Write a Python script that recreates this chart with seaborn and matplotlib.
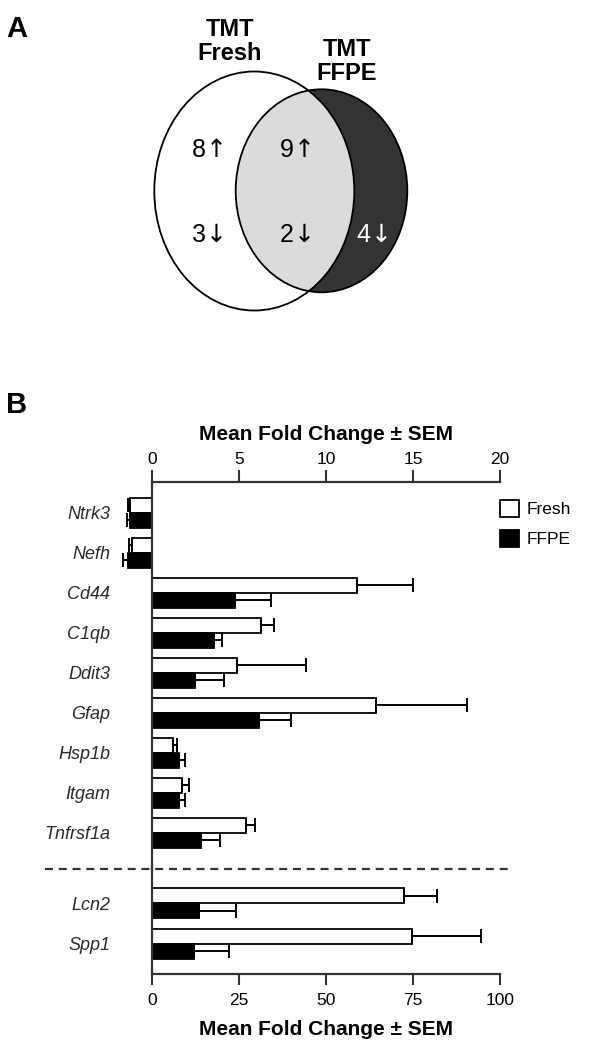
import numpy as np
import pandas as pd
import matplotlib
matplotlib.use("Agg")
import matplotlib.pyplot as plt
import seaborn as sns
from matplotlib.patches import Ellipse, Patch
from matplotlib.lines import Line2D

# panel B data (top block uses 0-20 scale, bottom block 0-100)
top_genes = ['Ntrk3', 'Nefh', 'Cd44', 'C1qb', 'Ddit3', 'Gfap', 'Hsp1b', 'Itgam', 'Tnfrsf1a']
fresh_mean = [-1.26, -1.15, 11.8, 6.26, 4.87, 12.87, 1.19, 1.74, 5.38]
fresh_sem = [0.10, 0.18, 3.2, 0.73, 3.98, 5.21, 0.23, 0.37, 0.54]
ffpe_mean = [-1.26, -1.36, 4.79, 3.54, 2.45, 6.13, 1.55, 1.55, 2.82]
ffpe_sem = [0.20, 0.33, 2.07, 0.50, 1.69, 1.86, 0.37, 0.35, 1.09]

bottom_genes = ['Lcn2', 'Spp1']
fresh_mean_b = [72.4, 74.6]
fresh_sem_b = [9.4, 19.9]
ffpe_mean_b = [13.6, 12.1]
ffpe_sem_b = [10.5, 10.1]

top_ticks = [0, 5, 10, 15, 20]
bottom_ticks = [0, 25, 50, 75, 100]
groups = ['Fresh', 'FFPE']
xlabel = 'Mean Fold Change \u00b1 SEM'

# panel A counts
venn_up = [8, 9]
venn_down = [3, 2, 4]

sns.set_style("ticks")
plt.rcParams['font.family'] = ['Liberation Sans', 'DejaVu Sans']
plt.rcParams['mathtext.fontset'] = 'dejavusans'
plt.rcParams['text.color'] = 'black'
plt.rcParams['axes.labelcolor'] = 'black'
plt.rcParams['xtick.color'] = 'black'
plt.rcParams['ytick.color'] = 'black'

W, H = 615, 1048
fig = plt.figure(figsize=(W / 100, H / 100), dpi=100)

# ---------------- panel A: venn ----------------
axv = fig.add_axes([0, 1 - 320 / H, 1, 320 / H])
axv.set_xlim(0, W)
axv.set_ylim(320, 0)
axv.axis('off')

left_c = Ellipse((254.3, 191), 200, 239, transform=axv.transData)
axv.add_patch(Ellipse((321.5, 190.8), 171.6, 203, facecolor='#333333', edgecolor='none', zorder=1))
inter = Ellipse((321.5, 190.8), 171.6, 203, facecolor='#dbdbdb', edgecolor='none', zorder=2)
axv.add_patch(inter)
inter.set_clip_path(left_c)
axv.add_patch(Ellipse((254.3, 191), 200, 239, facecolor='none', edgecolor='black', lw=1.3, zorder=3))
axv.add_patch(Ellipse((321.5, 190.8), 171.6, 203, facecolor='none', edgecolor='black', lw=1.3, zorder=3))

axv.text(6, 37, 'A', fontsize=21, fontweight='bold', va='baseline', ha='left')
tk = dict(fontsize=17, fontweight='bold', ha='center', va='baseline')
axv.text(230, 36, 'TMT', **tk)
axv.text(230, 60, 'Fresh', **tk)
axv.text(347, 56, 'TMT', **tk)
axv.text(347, 80, 'FFPE', **tk)

up = r'$\!\uparrow$'
down = r'$\!\downarrow$'
nk = dict(fontsize=18, ha='center', va='baseline', zorder=4)
axv.text(207, 157, '%d%s' % (venn_up[0], up), **nk)
axv.text(295, 157, '%d%s' % (venn_up[1], up), **nk)
axv.text(207, 242, '%d%s' % (venn_down[0], down), **nk)
axv.text(295, 242, '%d%s' % (venn_down[1], down), **nk)
axv.text(372, 242, '%d%s' % (venn_down[2], down), color='white', **nk)

# ---------------- panel B: bars ----------------
fig.text(6 / W, 1 - 413 / H, 'B', fontsize=21, fontweight='bold', va='baseline', ha='left')

left = 152 / W
width = 348 / W
ax_top = fig.add_axes([left, 179 / H, width, (869 - 481.7) / H])
ax_bot = fig.add_axes([left, 74 / H, width, 105 / H])

spine_c = '#333333'
palette = {'Fresh': 'white', 'FFPE': 'black'}


def draw_block(ax, genes, fm, fs, pm, ps):
    df = pd.DataFrame({
        'gene': genes * 2,
        'group': ['Fresh'] * len(genes) + ['FFPE'] * len(genes),
        'value': fm + pm,
    })
    sns.barplot(data=df, x='value', y='gene', hue='group', hue_order=groups, order=genes,
                palette=palette, edgecolor='black', linewidth=1.3, width=0.75,
                errorbar=None, legend=False, orient='h', ax=ax)
    for p in ax.patches:
        p.set_clip_on(False)
    for cont, means, sems in zip(ax.containers, [fm, pm], [fs, ps]):
        for bar, m, s in zip(cont, means, sems):
            y = bar.get_y() + bar.get_height() / 2
            lo, hi = (s, 0) if m < 0 else (0, s)
            ax.errorbar(m, y, xerr=[[lo], [hi]], fmt='none', ecolor='black',
                        elinewidth=1.4, capsize=4.7, capthick=1.4, clip_on=False, zorder=5)
    ax.set_ylabel('')
    ax.tick_params(axis='y', length=0, pad=30, labelsize=13)
    for lab in ax.get_yticklabels():
        lab.set_fontstyle('italic')
        lab.set_color('#2a2a2a')
    for s in ax.spines.values():
        s.set_color(spine_c)
        s.set_linewidth(1.6)
    ax.spines['right'].set_visible(False)
    ax.patch.set_visible(False)


draw_block(ax_top, top_genes, fresh_mean, fresh_sem, ffpe_mean, ffpe_sem)
draw_block(ax_bot, bottom_genes, fresh_mean_b, fresh_sem_b, ffpe_mean_b, ffpe_sem_b)

ax_top.set_xlim(0, 20)
ax_top.set_ylim(8.9, -0.78)
ax_top.spines['bottom'].set_visible(False)
ax_top.xaxis.tick_top()
ax_top.xaxis.set_label_position('top')
ax_top.set_xticks(top_ticks)
ax_top.tick_params(axis='x', direction='out', length=8.5, width=1.5, color=spine_c,
                   labelsize=12.5, pad=2)
ax_top.set_xlabel(xlabel, fontsize=15, fontweight='bold', labelpad=9)

ax_bot.set_xlim(0, 100)
ax_bot.set_ylim(1.75, -0.85)
ax_bot.spines['top'].set_visible(False)
ax_bot.set_xticks(bottom_ticks)
ax_bot.tick_params(axis='x', direction='out', length=8, width=1.5, color=spine_c,
                   labelsize=12.5, pad=6)
ax_bot.set_xlabel(xlabel, fontsize=15, fontweight='bold', labelpad=8)

# dashed separator between the two scales
fig.add_artist(Line2D([45 / W, 509 / W], [179 / H, 179 / H], transform=fig.transFigure,
                      color='#333333', lw=1.6, linestyle=(0, (3.6, 2.6)), zorder=6))

handles = [Patch(facecolor=palette[g], edgecolor='black', linewidth=1.3) for g in groups]
ax_top.legend(handles, groups, loc='upper left', bbox_to_anchor=(500 / W, 1 - 500 / H),
              bbox_transform=fig.transFigure, frameon=False, fontsize=12.5,
              handlelength=1.12, handleheight=1.12, handletextpad=0.42,
              labelspacing=0.72, borderpad=0, borderaxespad=0)

fig.savefig('out.png', dpi=100)
